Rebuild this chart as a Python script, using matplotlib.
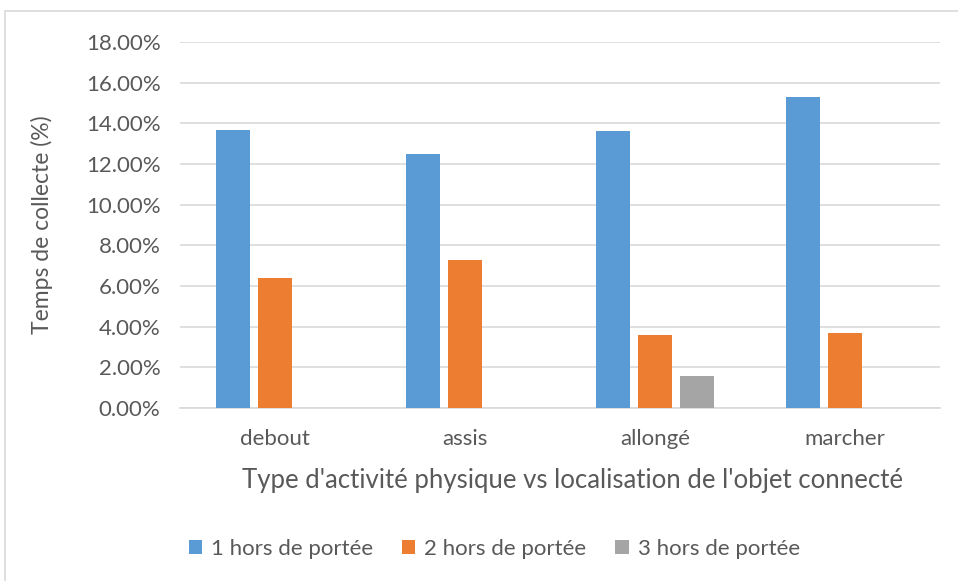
import numpy as np
import matplotlib
matplotlib.use('Agg')
import matplotlib.pyplot as plt
from matplotlib.patches import Rectangle
from matplotlib.ticker import FuncFormatter

categories = ['debout', 'assis', 'allongé', 'marcher']
series_names = ['1 hors de portée', '2 hors de portée', '3 hors de portée']
hors1 = [13.67, 12.50, 13.60, 15.30]
hors2 = [6.40, 7.30, 3.60, 3.70]
hors3 = [0.0, 0.0, 1.58, 0.0]
colors = ['#5b9bd5', '#ed7d31', '#a5a5a5']

plt.rcParams['font.family'] = ['Lato', 'DejaVu Sans']
txt = '#595959'

fig = plt.figure(figsize=(9.58, 5.81), dpi=100)
ax = fig.add_axes([180 / 958, 1 - 408 / 581, 760 / 958, 366 / 581])

# outer chart frame
fig.patches.append(Rectangle((5 / 958, -0.01), 1.0, 1 - 11 / 581 + 0.01,
                             transform=fig.transFigure, fill=False,
                             edgecolor='#d9d9d9', linewidth=1.2))

x = np.arange(len(categories))
width = 0.174
step = 0.221
for i, (vals, name) in enumerate(zip([hors1, hors2, hors3], series_names)):
    ax.bar(x + (i - 1) * step, vals, width, color=colors[i], label=name, zorder=3)

ax.set_xlim(-0.5, 3.5)
ax.set_ylim(0, 18)
ax.set_yticks(np.arange(0, 18.1, 2))
ax.yaxis.set_major_formatter(FuncFormatter(lambda v, p: f'{v:.2f}%'))
ax.grid(axis='y', color='#d9d9d9', linewidth=1.2, zorder=0)
for s in ['top', 'right', 'left']:
    ax.spines[s].set_visible(False)
ax.spines['bottom'].set_color('#d9d9d9')
ax.spines['bottom'].set_linewidth(1.2)
ax.set_xticks(x)
ax.set_xticklabels(categories)
ax.tick_params(axis='both', length=0, labelsize=16, colors=txt)
ax.tick_params(axis='y', pad=14)
ax.tick_params(axis='x', pad=15)

ax.set_ylabel('Temps de collecte (%)', fontsize=16.5, color=txt, va='center')
ax.yaxis.set_label_coords(-0.182, 0.5)
ax.set_xlabel("Type d'activité physique vs localisation de l'objet connecté",
              fontsize=18.5, color=txt, va='center')
ax.xaxis.set_label_coords(0.517, -0.197)

fig.legend(loc='center', bbox_to_anchor=(0.516, 1 - 549 / 581), ncol=3,
           frameon=False, fontsize=16, labelcolor=txt, handlelength=0.6,
           handleheight=0.6, handletextpad=0.4, columnspacing=1.3)

plt.savefig('out.png', dpi=100, facecolor='white')
